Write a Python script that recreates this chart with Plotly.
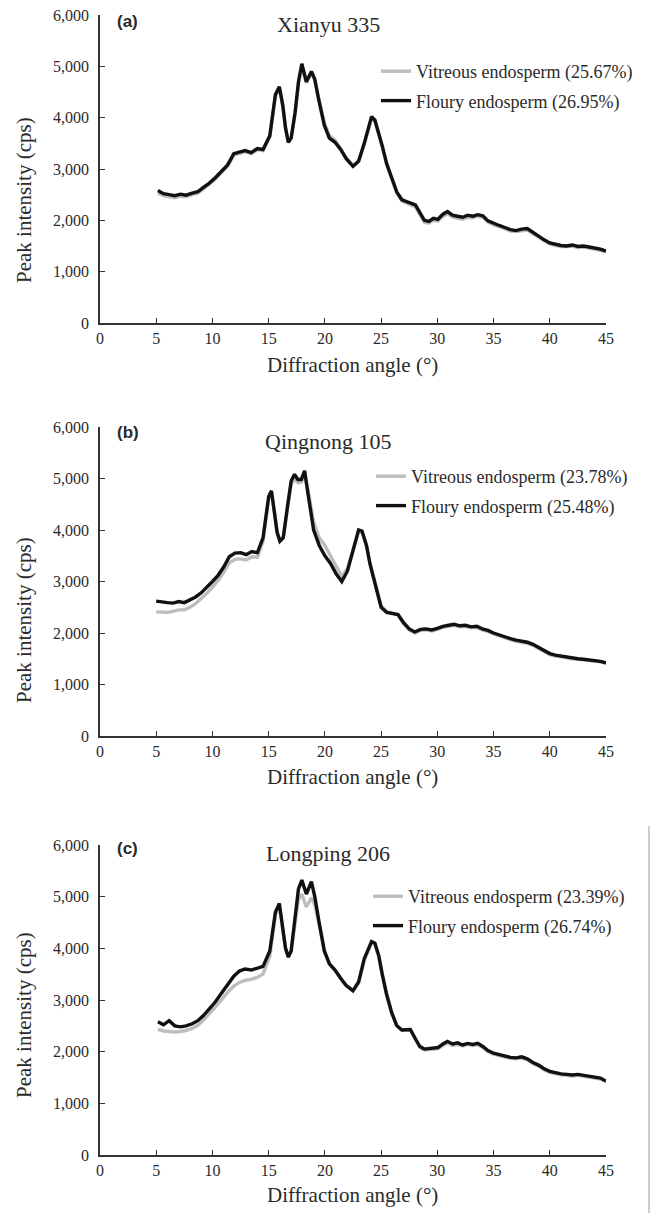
import plotly.graph_objects as go

# The page body has an 8px default margin; the figure is offset by it.
WIN_W, WIN_H = 658, 1213
OFF = 8
W, H = WIN_W - OFF, WIN_H - OFF

# Angle grids (degrees 2θ)
ANGLE_B = [5, 5.5, 6, 6.5, 7, 7.5, 8, 8.5, 9, 9.5,
           10, 10.5, 11, 11.5, 12, 12.5, 13, 13.5, 14, 14.5,
           15, 15.25, 15.5, 15.75, 16, 16.3, 16.7, 17, 17.3, 17.6,
           17.9, 18.2, 18.5, 19, 19.5, 20, 20.5, 21, 21.5, 22,
           22.5, 23, 23.3, 23.7, 24, 24.5, 25, 25.5, 26, 26.5,
           27, 27.5, 28, 28.5, 29, 29.5, 30, 30.5, 31, 31.5,
           32, 32.5, 33, 33.5, 34, 34.5, 35, 35.5, 36, 36.5,
           37, 37.5, 38, 38.5, 39, 39.5, 40, 40.5, 41, 41.5,
           42, 42.5, 43, 43.5, 44, 44.5, 45]
ANGLE_AC = [5.15, 5.65, 6.15, 6.65, 7.15, 7.65, 8.2, 8.7, 9.2, 9.7,
            10.25, 10.8, 11.35, 11.9, 12.4, 12.9, 13.45, 14.0, 14.5, 15.1,
            15.6, 15.95, 16.25, 16.5, 16.75, 17.0, 17.35, 17.65, 17.95, 18.35,
            18.8, 19.1, 19.45, 19.95, 20.4, 20.9, 21.4, 21.9, 22.5, 23.0,
            23.5, 24.15, 24.45, 24.8, 25.1, 25.5, 25.95, 26.4, 26.85, 27.6,
            28.05, 28.45, 28.85, 29.25, 29.65, 30.05, 30.5, 30.9, 31.35, 31.8,
            32.25, 32.7, 33.15, 33.6, 34.05, 34.5, 35.0, 35.5, 36, 36.5,
            37, 37.5, 38, 38.5, 39, 39.5, 40, 40.5, 41, 41.5,
            42, 42.5, 43, 43.5, 44, 44.5, 45]

A_FLOURY = [2580, 2520, 2500, 2480, 2510, 2490, 2530, 2560, 2640, 2720,
            2830, 2950, 3080, 3300, 3330, 3360, 3320, 3400, 3380, 3650,
            4450, 4600, 4250, 3800, 3520, 3600, 4100, 4700, 5050, 4700,
            4900, 4750, 4350, 3850, 3600, 3520, 3380, 3200, 3050, 3150,
            3500, 4020, 3950, 3700, 3450, 3100, 2800, 2550, 2400, 2330,
            2300, 2150, 2000, 1980, 2040, 2020, 2120, 2170, 2100, 2080,
            2060, 2100, 2080, 2110, 2090, 1990, 1940, 1900, 1860, 1820,
            1800, 1830, 1840, 1760, 1700, 1620, 1560, 1530, 1510, 1500,
            1520, 1490, 1500, 1480, 1460, 1440, 1400]
A_VITREOUS = [2530, 2480, 2460, 2440, 2470, 2460, 2500, 2530, 2610, 2700,
              2800, 2930, 3060, 3270, 3310, 3340, 3300, 3380, 3360, 3620,
              4420, 4570, 4230, 3790, 3540, 3610, 4080, 4650, 4980, 4680,
              4860, 4730, 4380, 3900, 3650, 3560, 3400, 3210, 3070, 3160,
              3480, 3990, 3930, 3690, 3440, 3080, 2780, 2530, 2380, 2310,
              2260, 2110, 1960, 1950, 2000, 1990, 2080, 2130, 2060, 2040,
              2020, 2060, 2050, 2080, 2060, 1970, 1910, 1880, 1840, 1790,
              1780, 1800, 1810, 1740, 1680, 1600, 1540, 1510, 1490, 1490,
              1500, 1470, 1480, 1460, 1440, 1420, 1390]

B_FLOURY = [2620, 2600, 2590, 2580, 2610, 2590, 2640, 2700, 2780, 2880,
            3000, 3120, 3280, 3480, 3550, 3560, 3520, 3580, 3560, 3850,
            4650, 4760, 4400, 3950, 3780, 3850, 4500, 4950, 5080, 4980,
            4980, 5150, 4700, 4000, 3700, 3500, 3350, 3150, 3000, 3200,
            3600, 4000, 3980, 3700, 3350, 2900, 2500, 2400, 2380, 2360,
            2200, 2080, 2020, 2070, 2080, 2060, 2090, 2130, 2150, 2170,
            2140, 2150, 2120, 2130, 2080, 2050, 2000, 1960, 1920, 1890,
            1860, 1840, 1820, 1780, 1720, 1650, 1600, 1570, 1550, 1530,
            1510, 1500, 1490, 1480, 1460, 1450, 1420]
B_VITREOUS = [2410, 2400, 2400, 2420, 2450, 2450, 2500, 2570, 2660, 2770,
              2890, 3020, 3180, 3360, 3430, 3440, 3420, 3480, 3470, 3780,
              4600, 4720, 4380, 3980, 3800, 3880, 4450, 4880, 5000, 4920,
              4930, 5050, 4780, 4150, 3850, 3700, 3500, 3300, 3100, 3250,
              3600, 3980, 3960, 3700, 3360, 2930, 2530, 2420, 2390, 2350,
              2180, 2060, 2000, 2050, 2060, 2040, 2070, 2110, 2130, 2150,
              2120, 2130, 2100, 2110, 2060, 2030, 1980, 1940, 1900, 1870,
              1840, 1820, 1800, 1760, 1700, 1630, 1580, 1550, 1530, 1510,
              1500, 1490, 1480, 1470, 1450, 1440, 1410]

C_FLOURY = [2580, 2520, 2600, 2500, 2480, 2500, 2540, 2600, 2700, 2820,
            2960, 3130, 3300, 3460, 3560, 3600, 3580, 3620, 3650, 3950,
            4700, 4870, 4400, 4000, 3830, 3950, 4600, 5150, 5320, 5050,
            5290, 5000, 4550, 3950, 3700, 3580, 3420, 3280, 3180, 3350,
            3800, 4130, 4100, 3850, 3500, 3100, 2750, 2500, 2420, 2430,
            2250, 2100, 2050, 2060, 2070, 2080, 2150, 2200, 2150, 2170,
            2130, 2160, 2140, 2160, 2100, 2020, 1970, 1940, 1910, 1890,
            1880, 1900, 1860, 1790, 1740, 1670, 1620, 1590, 1570, 1560,
            1550, 1560, 1540, 1530, 1510, 1490, 1430]
C_VITREOUS = [2430, 2400, 2390, 2380, 2390, 2410, 2450, 2510, 2610, 2720,
              2860, 3000, 3150, 3270, 3340, 3380, 3400, 3440, 3500, 3850,
              4650, 4800, 4380, 4000, 3850, 3950, 4500, 4950, 5050, 4800,
              4980, 4850, 4500, 3950, 3700, 3580, 3420, 3280, 3180, 3330,
              3770, 4100, 4080, 3830, 3480, 3080, 2740, 2500, 2420, 2420,
              2230, 2080, 2030, 2040, 2050, 2060, 2120, 2170, 2120, 2140,
              2110, 2140, 2120, 2140, 2080, 2000, 1950, 1920, 1890, 1870,
              1860, 1880, 1840, 1770, 1720, 1650, 1600, 1570, 1550, 1540,
              1530, 1540, 1520, 1510, 1490, 1470, 1420]

PANEL_LABELS = ["(a)", "(b)", "(c)"]
VARIETIES = ["Xianyu 335", "Qingnong 105", "Longping 206"]
VITREOUS_PCT = ["25.67%", "23.78%", "23.39%"]
FLOURY_PCT = ["26.95%", "25.48%", "26.74%"]
X_TICKS = [0, 5, 10, 15, 20, 25, 30, 35, 40, 45]
Y_TICKS = [0, 1000, 2000, 3000, 4000, 5000, 6000]

ANGLES = [ANGLE_AC, ANGLE_B, ANGLE_AC]
SERIES = [(A_VITREOUS, A_FLOURY), (B_VITREOUS, B_FLOURY), (C_VITREOUS, C_FLOURY)]

# layout geometry (window pixels)
X_LEFT, X_RIGHT = 100, 606
PANEL_Y = [(15, 323), (427, 736), (845, 1155)]   # (top=6000, bottom=0)
LABEL_Y = [22, 432, 848]
TITLE_Y = [25, 441, 854]
YTITLE_Y = [200, 620, 1015]
XTITLE_Y = [365, 777, 1195]
LEGEND_TOP = [53, 458, 878]
LEGEND_X = [376, 371, 368]

def px(x):
    return (x - OFF) / W

def py(y):
    return 1 - (y - OFF) / H

SERIF = "Liberation Serif"
SANS = "Liberation Sans"
TXT = "#2a2a2a"

fig = go.Figure()
annotations = []
legend_names = ["legend", "legend2", "legend3"]

for i in range(3):
    xa = "x" if i == 0 else f"x{i+1}"
    ya = "y" if i == 0 else f"y{i+1}"
    vit, flo = SERIES[i]
    fig.add_trace(go.Scatter(
        x=ANGLES[i], y=vit, mode="lines", xaxis=xa, yaxis=ya,
        line=dict(color="#bdbdbd", width=3.4),
        name=f"Vitreous endosperm ({VITREOUS_PCT[i]})",
        legend=legend_names[i], legendgroup=f"v{i}"))
    fig.add_trace(go.Scatter(
        x=ANGLES[i], y=flo, mode="lines", xaxis=xa, yaxis=ya,
        line=dict(color="#111111", width=3.4),
        name=f"Floury endosperm ({FLOURY_PCT[i]})",
        legend=legend_names[i], legendgroup=f"f{i}"))

    top, bot = PANEL_Y[i]
    axis_common = dict(showgrid=False, zeroline=False, showline=True,
                       automargin=False, ticklabeloverflow="allow",
                       linecolor="#333333", linewidth=1.5, ticks="inside",
                       ticklen=5, tickwidth=1.2, tickcolor="#333333",
                       tickfont=dict(family=SERIF, size=16, color=TXT))
    fig.update_layout(**{
        ("xaxis" if i == 0 else f"xaxis{i+1}"): dict(
            domain=[px(X_LEFT), px(X_RIGHT)], range=[0, 45],
            tickvals=X_TICKS, anchor=ya, **axis_common),
        ("yaxis" if i == 0 else f"yaxis{i+1}"): dict(
            domain=[py(bot), py(top)], range=[0, 6000],
            tickvals=Y_TICKS, tickformat=",d", anchor=xa,
            ticklabelstandoff=6, **axis_common),
    })

    lg = dict(x=px(LEGEND_X[i]), y=py(LEGEND_TOP[i]), xanchor="left",
              yanchor="top", bgcolor="rgba(0,0,0,0)",
              font=dict(family=SERIF, size=18, color=TXT),
              traceorder="grouped", tracegroupgap=3)
    fig.update_layout(**{legend_names[i]: lg})

    annotations += [
        dict(text=f"<b>{PANEL_LABELS[i]}</b>", x=px(115), y=py(LABEL_Y[i]),
             xanchor="left", yanchor="middle", showarrow=False,
             xref="paper", yref="paper",
             font=dict(family=SANS, size=17, color=TXT)),
        dict(text=VARIETIES[i], x=px(328), y=py(TITLE_Y[i]),
             xanchor="center", yanchor="middle", showarrow=False,
             xref="paper", yref="paper",
             font=dict(family=SERIF, size=22, color=TXT)),
        dict(text="Peak intensity (cps)", x=px(24), y=py(YTITLE_Y[i]),
             xanchor="center", yanchor="middle", textangle=-90,
             showarrow=False, xref="paper", yref="paper",
             font=dict(family=SERIF, size=21, color=TXT)),
        dict(text="Diffraction angle (°)", x=px(352), y=py(XTITLE_Y[i]),
             xanchor="center", yanchor="middle", showarrow=False,
             xref="paper", yref="paper",
             font=dict(family=SERIF, size=21, color=TXT)),
    ]

fig.update_layout(
    template="none",
    width=W, height=H, margin=dict(l=0, r=0, t=0, b=0, pad=0),
    paper_bgcolor="white", plot_bgcolor="white",
    font=dict(family=SERIF, color=TXT),
    showlegend=True, annotations=annotations,
    shapes=[dict(type="line", xref="paper", yref="paper",
                 x0=px(649), x1=px(649), y0=0, y1=py(826),
                 line=dict(color="#9a9a9a", width=1))],
)

fig.write_html("out.html")
